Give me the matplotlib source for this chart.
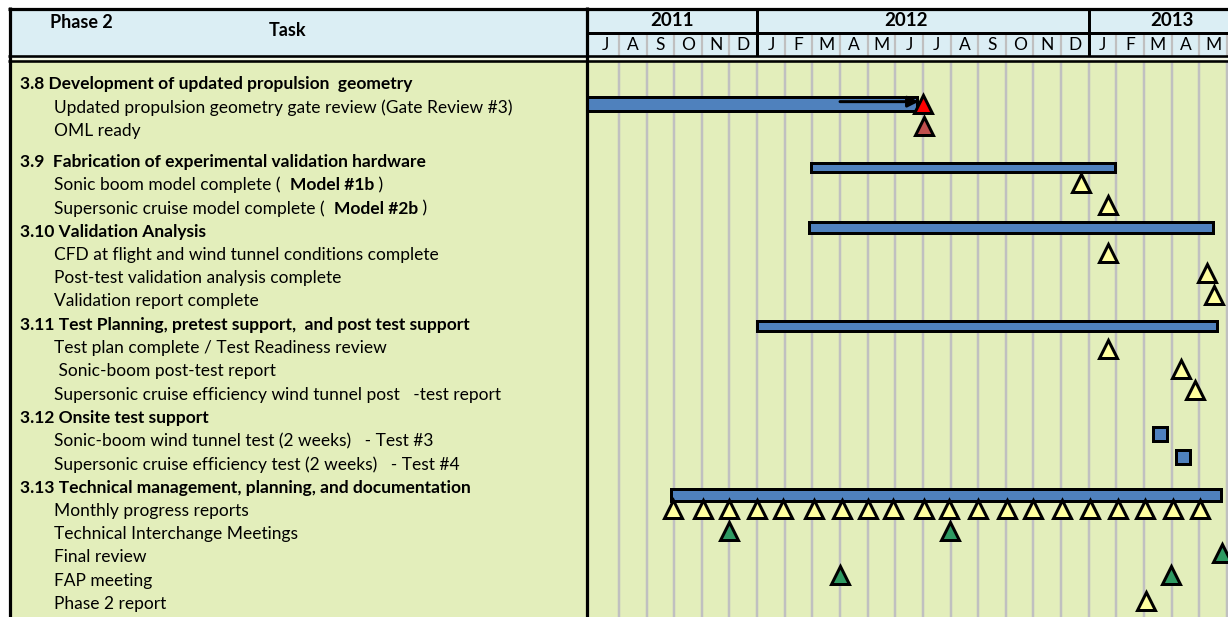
import matplotlib.pyplot as plt
import numpy as np

#=====================================================================
# chart data
# x values are months counted from the start of Jul 2011
#=====================================================================
years = ['2011', '2012', '2013']
year_label_x = [2.92, 11.39, 21.02]
year_breaks = [6, 18]
month_letters = list('JASONDJFMAMJJASONDJFMAM')

task_labels = [
    '3.8 Development of updated propulsion  geometry',
    'Updated propulsion geometry gate review (Gate Review #3)',
    'OML ready',
    '3.9  Fabrication of experimental validation hardware',
    'Sonic boom model complete (  ',
    'Supersonic cruise model complete (  ',
    '3.10 Validation Analysis',
    'CFD at flight and wind tunnel conditions complete',
    'Post-test validation analysis complete',
    'Validation report complete',
    '3.11 Test Planning, pretest support,  and post test support',
    'Test plan complete / Test Readiness review',
    ' Sonic-boom post-test report',
    'Supersonic cruise efficiency wind tunnel post   -test report',
    '3.12 Onsite test support',
    'Sonic-boom wind tunnel test (2 weeks)   - Test #3',
    'Supersonic cruise efficiency test (2 weeks)   - Test #4',
    '3.13 Technical management, planning, and documentation',
    'Monthly progress reports',
    'Technical Interchange Meetings',
    'Final review',
    'FAP meeting',
    'Phase 2 report',
]
task_bold = [1, 0, 0, 1, 0, 0, 1, 0, 0, 0, 1, 0, 0, 0, 1, 0, 0, 1, 0, 0, 0, 0, 0]
# bold model names that follow some labels
model_rows = [4, 5]
model_names = ['Model #1b', 'Model #2b']

# summary bars (row units)
bar_start = [-0.3, 7.95, 7.89, 5.98, 2.87]
bar_end = [11.78, 18.96, 22.49, 22.64, 22.78]
bar_y = [0.86, 3.59, 6.17, 10.40, 17.65]

# arrow inside the 3.8 bar
arrow_start, arrow_end, arrow_y = 9.0, 11.85, 0.76

# milestones
red_x, red_y = [12.0], [0.86]
oml_x, oml_y = [12.03], [1.81]
yellow_x = [17.72, 18.68, 18.69, 22.28, 22.52, 18.71, 21.34, 21.85, 20.08]
yellow_y = [4.25, 5.20, 7.26, 8.12, 9.07, 11.38, 12.24, 13.15, 22.21]
monthly_x = [2.94, 4.03, 4.98, 6.0, 6.95, 8.06, 9.08, 10.0, 10.93, 12.03,
             12.95, 13.99, 15.04, 15.97, 17.03, 18.03, 19.05, 20.04, 21.05, 22.03]
monthly_y = 18.25
green_x = [4.98, 12.98, 22.82, 9.0, 20.98]
green_y = [19.2, 19.2, 20.15, 21.09, 21.09]
test_x = [20.59, 21.4]
test_y = [15.04, 16.03]

#=====================================================================
# layout / style
#=====================================================================
W, H = 1228, 617
plt.rcParams['font.family'] = ['Lato', 'DejaVu Sans']

HEAD_BLUE = '#DBEEF4'
BODY_GREEN = '#E3EEBB'
BAR_BLUE = '#4F81BD'
GRID_GREY = '#C0C0C0'
YELLOW = '#FFFF9E'
GREEN = '#2E9A62'

ROW_H = 23.28     # pixels per row
Y0 = 83.95        # pixel y of row 0
GAP = 0.34        # extra space after the 3.8 block
MONTH_X0 = 588    # pixel x of chart left edge
X_LO, X_HI = -0.12, 23.04
FS = 12.5

def px(v):
    return v * 0.72

def box(x0, y0, x1, y1):
    return [x0 / W, 1 - y1 / H, (x1 - x0) / W, (y1 - y0) / H]

def row_pix(i):
    return Y0 + ROW_H * (i + (GAP if i >= 3 else 0))

fig = plt.figure(figsize=(W / 100, H / 100), dpi=100)

# background panels in pixel coordinates
ax_bg = fig.add_axes([0, 0, 1, 1])
ax_bg.set_xlim(0, W)
ax_bg.set_ylim(H, 0)
ax_bg.axis('off')
ax_bg.add_patch(plt.Rectangle((9, 9), 580, 49, color=HEAD_BLUE, lw=0))
ax_bg.add_patch(plt.Rectangle((9, 61), 580, H - 61, color=BODY_GREEN, lw=0))
ax_bg.add_patch(plt.Rectangle((588, 9), W - 588, 49, color=HEAD_BLUE, lw=0))
ax_bg.add_patch(plt.Rectangle((9, 57.5), W, 3, color='#F4F8E6', lw=0))

ax_bg.text(81, 23, 'Phase 2', fontsize=13, fontweight='bold', ha='center', va='center')
ax_bg.text(288, 31, 'Task', fontsize=13, fontweight='bold', ha='center', va='center')

# task labels
for i, lab in enumerate(task_labels):
    x = 20 if task_bold[i] else 54
    t = ax_bg.text(x, row_pix(i), lab, fontsize=FS,
                   fontweight='bold' if task_bold[i] else 'normal',
                   ha='left', va='center')
    if i in model_rows:
        name = model_names[model_rows.index(i)]
        t2 = ax_bg.annotate(name, xy=(1, 0), xycoords=t, fontsize=FS,
                            fontweight='bold', ha='left', va='bottom')
        ax_bg.annotate(' )', xy=(1, 0), xycoords=t2, fontsize=FS,
                       ha='left', va='bottom')

# header over the time axis
ax_h = fig.add_axes(box(MONTH_X0, 9, W, 57))
ax_h.set_xlim(X_LO, X_HI)
ax_h.set_ylim(57, 9)
ax_h.axis('off')
ax_h.vlines(np.arange(1, 24), 33, 57, color=GRID_GREY, lw=px(2.2))
for i, m in enumerate(month_letters):
    ax_h.text(i + 0.5, 45.5, m, fontsize=12.5, ha='center', va='center')
for x, yr in zip(year_label_x, years):
    ax_h.text(x, 20.5, yr, fontsize=13.5, fontweight='bold', ha='center', va='center')
ax_h.vlines(year_breaks, 9, 57, color='black', lw=px(3))
ax_h.axhline(33, color='black', lw=px(3))

# gantt body
ax_g = fig.add_axes(box(MONTH_X0, 62, W, H))
ax_g.set_facecolor(BODY_GREEN)
r_top = (62 - Y0) / ROW_H
r_bot = (H - Y0) / ROW_H
ax_g.set_xlim(X_LO, X_HI)
ax_g.set_ylim(r_bot, r_top)
for s in ax_g.spines.values():
    s.set_visible(False)
ax_g.set_xticks([])
ax_g.set_yticks([])
ax_g.vlines(np.arange(1, 24), r_bot, r_top, color=GRID_GREY, lw=px(2.5), zorder=1)

bar_thick = [0.60, 0.39, 0.45, 0.46, 0.54]
ax_g.barh(bar_y, np.array(bar_end) - np.array(bar_start), left=bar_start,
          height=bar_thick, color=BAR_BLUE, edgecolor='black', lw=px(3), zorder=3)

ax_g.annotate('', xy=(arrow_end, arrow_y), xytext=(arrow_start, arrow_y),
              arrowprops=dict(arrowstyle='-|>', color='black', lw=px(3),
                              mutation_scale=16, shrinkA=0, shrinkB=0), zorder=4)

tri = dict(marker='^', ls='none', ms=13.5, mec='black', mew=px(3), zorder=5)
ax_g.plot(red_x, red_y, mfc='#FF0000', **tri)
ax_g.plot(oml_x, oml_y, mfc='#C0504D', **tri)
ax_g.plot(yellow_x, yellow_y, mfc=YELLOW, **tri)
ax_g.plot(monthly_x, [monthly_y] * len(monthly_x), mfc=YELLOW, **tri)
ax_g.plot(green_x, green_y, mfc=GREEN, **tri)
ax_g.plot(test_x, test_y, marker='s', ls='none', ms=9.5, mfc=BAR_BLUE,
          mec='black', mew=px(3), zorder=5)

# frame lines on top
ax_f = fig.add_axes([0, 0, 1, 1], zorder=10)
ax_f.set_xlim(0, W)
ax_f.set_ylim(H, 0)
ax_f.axis('off')
ax_f.patch.set_alpha(0)
ax_f.hlines(8.5, 8, W, color='black', lw=px(3.2))
ax_f.vlines(9.5, 7, H, color='black', lw=px(3.2))
ax_f.hlines([56, 61], 8, W, color='black', lw=px(2.6))
ax_f.vlines(587, 7, H, color='black', lw=px(3.2))

fig.savefig('out.png', dpi=100)
